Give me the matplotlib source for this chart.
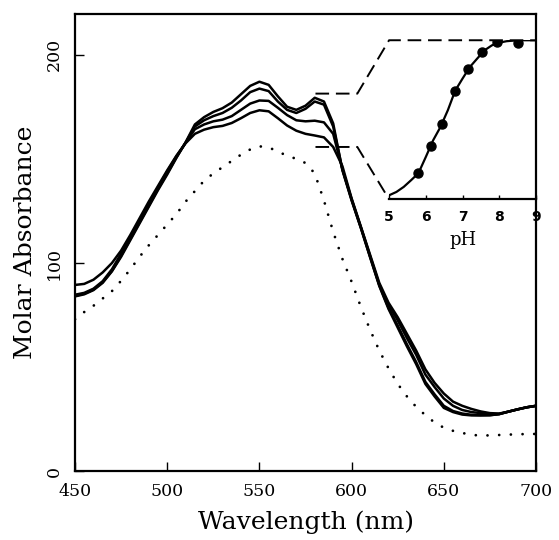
import numpy as np
import matplotlib
matplotlib.use("Agg")
import matplotlib.pyplot as plt

# wavelength grid of the spectra (nm)
wavelength = np.arange(450, 701, 5)

# four spectra at increasing pH (A = highest band at 550 nm)
spec_a = [84, 85, 87, 90.5, 96, 103, 111, 119, 127, 135, 142.5, 150.5, 158, 166.5, 170,
          172.5, 174.3, 177, 181, 185, 187, 185.5, 180, 175, 173.5, 175.5, 179.3, 177.5,
          167, 144.5, 130, 116.8, 102.8, 89, 78, 69, 60, 51.5, 42, 36, 30.5, 28.5, 27.3,
          26.9, 26.9, 27, 27.5, 28.7, 29.8, 30.8, 31.5]
spec_b = [84.2, 85.3, 87.3, 90.8, 96.2, 103.5, 111.5, 119.5, 127.5, 135.5, 143, 150.7,
          157.8, 165.5, 168.5, 170.5, 172, 174.5, 178, 182, 183.7, 182.5, 177.5, 173.5, 172,
          174, 177.5, 176, 165.5, 145, 130.3, 117, 103, 89.3, 78.5, 70, 61, 52.5, 43, 37,
          31.5, 29, 27.8, 27.2, 27, 27, 27.5, 28.7, 29.8, 30.8, 31.5]
spec_c = [84.8, 85.7, 87.7, 91.3, 97, 104.5, 112.5, 120.5, 128.5, 136.3, 144, 151.3,
          157.8, 164.2, 166.5, 168, 168.8, 170.5, 173.5, 176.5, 178, 177.8, 174.5, 171,
          168.5, 168, 168.3, 167.5, 162, 145, 130.7, 117.3, 103.5, 89.7, 80, 72.5, 64, 56,
          46.5, 40.5, 35, 31.5, 29.5, 28.5, 28, 27.5, 27.6, 28.7, 29.8, 30.8, 31.5]
spec_d = [89.5, 90, 92, 95.5, 100, 106, 113.5, 121.5, 129.5, 137, 144.5, 151.5, 157.5,
          162, 164, 165.2, 165.8, 167.2, 169.5, 172, 173.3, 172.8, 169.5, 166, 163.5, 162,
          161.2, 160.3, 155.7, 146.5, 131, 117.5, 104, 90.5, 81, 74, 66, 58, 49, 42.5,
          37.4, 33.5, 31.5, 30, 28.8, 28, 27.8, 28.7, 29.8, 30.8, 31.5]
# dotted reference spectrum
spec_ref = [73, 76.5, 79.5, 83, 86.5, 91.5, 97, 103, 108.5, 113.5, 118.5, 123.5, 129.5,
            134.5, 139.5, 143, 146, 149, 152, 154.5, 156, 155.5, 153.5, 151.5, 150, 148, 143,
            130, 115, 102, 91, 79, 68, 58, 49.5, 42, 36, 31, 27, 23.5, 21, 19.5, 18.5,
            17.5, 17.3, 17.3, 17.5, 17.7, 17.8, 18, 18]

# inset: titration (fraction vs pH)
ph_points = [5.8, 6.15, 6.45, 6.8, 7.16, 7.54, 7.95, 8.52]
frac_points = [0.164, 0.338, 0.476, 0.683, 0.818, 0.929, 0.99, 0.985]
ph_curve = [5.0, 5.2, 5.4, 5.6, 5.8, 6.0, 6.2, 6.4, 6.6, 6.8, 7.0, 7.2, 7.4, 7.6, 7.8,
            8.0, 8.2, 8.4, 8.6, 8.8, 9.0]
frac_curve = [0.025, 0.046, 0.078, 0.12, 0.164, 0.266, 0.371, 0.455, 0.56, 0.683, 0.759,
              0.832, 0.885, 0.937, 0.968, 0.985, 0.994, 0.998, 1.0, 1.0, 1.0]

# zoom connector lines (main data coords)
conn_top_x = [580.4, 603.1, 620.3, 700]
conn_top_y = [181.3, 181.3, 206.9, 206.9]
conn_bot_x = [580.4, 603.1, 620.3]
conn_bot_y = [155.7, 155.7, 130.6]

plt.rcParams['font.family'] = ['DejaVu Serif']

fig = plt.figure(figsize=(5.59, 5.40), dpi=100)
ax = fig.add_axes([0.1342, 0.1269, 0.8247, 0.8472])

for s in [spec_a, spec_b, spec_c, spec_d]:
    ax.plot(wavelength, s, color='black', lw=1.8, solid_joinstyle='round')
ax.plot(wavelength, spec_ref, color='black', lw=2.0, ls=(0, (0.01, 4.2)),
        dash_capstyle='round')

ax.plot(conn_top_x, conn_top_y, color='black', lw=1.4, ls=(0, (7, 3.5)))
ax.plot(conn_bot_x, conn_bot_y, color='black', lw=1.4, ls=(0, (7, 3.5)))

ax.set_xlim(450, 700)
ax.set_ylim(0, 219.5)
ax.set_xticks([450, 500, 550, 600, 650, 700])
ax.set_yticks([0, 100, 200])
ax.tick_params(direction='in', length=6.5, width=1.0, labelsize=12.5)
ax.tick_params(axis='x', pad=8)
ax.tick_params(axis='y', pad=9)
for lab in ax.get_yticklabels():
    lab.set_rotation(90)
    lab.set_va('center')
for sp in ax.spines.values():
    sp.set_linewidth(1.6)

ax.set_xlabel('Wavelength (nm)', fontsize=18, labelpad=8)
ax.set_ylabel('Molar Absorbance', fontsize=18, labelpad=6)

# inset
axin = ax.inset_axes([620.3, 130.6, 79.7, 76.3], transform=ax.transData)
axin.patch.set_visible(False)
axin.plot(ph_curve, frac_curve, color='black', lw=1.6)
axin.plot(ph_points, frac_points, 'o', color='black', ms=6.5)
axin.set_xlim(5, 9)
axin.set_ylim(0, 1)
axin.set_xticks([5, 6, 7, 8, 9])
axin.set_yticks([])
for side in ['left', 'top', 'right']:
    axin.spines[side].set_visible(False)
axin.spines['bottom'].set_linewidth(1.6)
axin.tick_params(axis='x', direction='in', length=3, width=1.0, pad=8)
for lab in axin.get_xticklabels():
    lab.set_family('DejaVu Sans')
    lab.set_fontweight('bold')
    lab.set_fontsize(10)
axin.set_xlabel('pH', fontsize=13, labelpad=5)

fig.savefig('out.png', dpi=100)
